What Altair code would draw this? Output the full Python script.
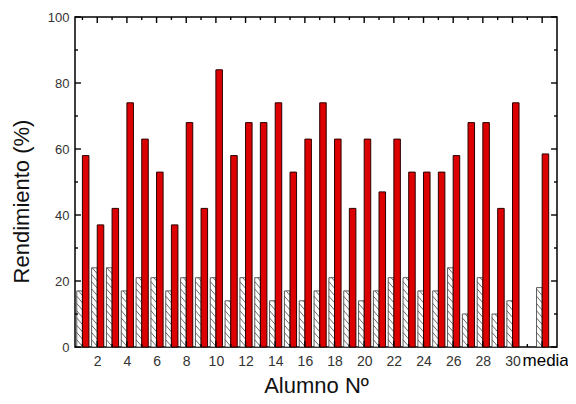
import altair as alt
import pandas as pd

# ---- data ----
alumnos = list(range(1, 31)) + [32]          # slot 32 = "media"
rend_rojo = [58, 37, 42, 74, 63, 53, 37, 68, 42, 84, 58, 68, 68, 74, 53,
             63, 74, 63, 42, 63, 47, 63, 53, 53, 53, 58, 68, 68, 42, 74, 58.5]
rend_rayado = [17, 24, 24, 17, 21, 21, 17, 21, 21, 21, 14, 21, 21, 14, 17,
               14, 17, 21, 17, 14, 17, 21, 21, 17, 17, 24, 10, 21, 10, 14, 18]
x_label_values = list(range(2, 31, 2)) + [32]
y_label_values = [0, 20, 40, 60, 80, 100]
x_tick_values = list(range(1, 33))
y_tick_values = list(range(0, 101, 10))

X_DOM = [0.5, 33]
Y_DOM = [0, 100]
W_H = 0.38   # hatched bar width (slot units)
W_R = 0.44   # red bar width

bars = pd.DataFrame({"alumno": alumnos, "rojo": rend_rojo, "rayado": rend_rayado})
bars["x_h0"] = bars["alumno"] - W_H
bars["x_h1"] = bars["alumno"]
bars["x_r0"] = bars["alumno"]
bars["x_r1"] = bars["alumno"] + W_R
bars["zero"] = 0.0

# hatch lines ("\" direction) clipped to each hatched bar
SP, DY = 2.2, 2.0
rows = []
for a, v in zip(alumnos, rend_rayado):
    xl, xr = a - W_H, a
    w = xr - xl
    k = 1
    while k * SP < v + DY:
        c = k * SP
        if c <= v:
            x0, y0 = xl, c
        else:
            t0 = (c - v) / DY
            x0, y0 = xl + t0 * w, v
        if c - DY >= 0:
            x1, y1 = xr, c - DY
        else:
            t1 = c / DY
            x1, y1 = xl + t1 * w, 0.0
        rows.append({"x0": x0, "y0": y0, "x1": x1, "y1": y1})
        k += 1
hatch = pd.DataFrame(rows)

xs = alt.Scale(domain=X_DOM, nice=False, zero=False)
ys = alt.Scale(domain=Y_DOM, nice=False)

FONT = "Liberation Sans"

x_axis = alt.Axis(
    values=x_label_values,
    labelExpr="datum.value == 32 ? 'media' : datum.value",
    ticks=False, domain=False, grid=False,
    labelFont=FONT,
    labelFontSize={"condition": {"test": "datum.value == 32", "value": 17}, "value": 14},
    labelColor={"condition": {"test": "datum.value == 32", "value": "#000"}, "value": "#333"},
    labelOffset={"condition": {"test": "datum.value == 32", "value": 3}, "value": 0},
    labelBaseline="alphabetic",
    labelPadding=18, labelFlush=False, labelOverlap=False, labelBound=False,
    title="Alumno Nº", titleFont=FONT, titleFontSize=22, titleFontWeight="normal",
    titleColor="#111", titleY=28, titleBaseline="top",
)
y_axis = alt.Axis(
    values=y_label_values, ticks=False, domain=False, grid=False,
    labelFont=FONT, labelFontSize=13, labelColor="#333", labelPadding=6,
    labelOverlap=False,
    title="Rendimiento (%)", titleFont=FONT, titleFontSize=22,
    titleFontWeight="normal", titleColor="#111", titlePadding=14, titleY=184,
)

def X(f):
    return alt.X(f, scale=xs, axis=x_axis)

def Y(f):
    return alt.Y(f, scale=ys, axis=y_axis)

base_h = alt.Chart(bars).mark_rect(fill="white", stroke="#333", strokeWidth=0.8).encode(
    x=X("x_h0:Q"), x2="x_h1:Q", y=Y("rayado:Q"), y2="zero:Q",
)
lines_h = alt.Chart(hatch).mark_rule(color="#444", strokeWidth=0.8).encode(
    x=X("x0:Q"), x2="x1:Q", y=Y("y0:Q"), y2="y1:Q",
)
red = alt.Chart(bars).mark_rect(fill="#dd0000", stroke="#2a0000", strokeWidth=1).encode(
    x=X("x_r0:Q"), x2="x_r1:Q", y=Y("rojo:Q"), y2="zero:Q",
)

# inward ticks on all four sides
xt = pd.DataFrame({"v": x_tick_values})
xt["len"] = xt["v"].apply(lambda v: 1.8 if v % 2 == 0 else 0.9)
xt["b0"] = 0.0
xt["b1"] = xt["len"]
xt["t0"] = 100.0
xt["t1"] = 100.0 - xt["len"]
yt = pd.DataFrame({"v": y_tick_values})
yt["len"] = yt["v"].apply(lambda v: 0.4 if v % 20 == 0 else 0.2)
yt["l0"] = X_DOM[0]
yt["l1"] = X_DOM[0] + yt["len"]
yt["r0"] = X_DOM[1]
yt["r1"] = X_DOM[1] - yt["len"]

tick_style = dict(color="black", strokeWidth=1.4)
ticks_bottom = alt.Chart(xt).mark_rule(**tick_style).encode(
    x=X("v:Q"), y=Y("b0:Q"), y2="b1:Q")
ticks_top = alt.Chart(xt).mark_rule(**tick_style).encode(
    x=X("v:Q"), y=Y("t0:Q"), y2="t1:Q")
ticks_left = alt.Chart(yt).mark_rule(**tick_style).encode(
    y=Y("v:Q"), x=X("l0:Q"), x2="l1:Q")
ticks_right = alt.Chart(yt).mark_rule(**tick_style).encode(
    y=Y("v:Q"), x=X("r0:Q"), x2="r1:Q")

chart = alt.layer(
    base_h, lines_h, red, ticks_bottom, ticks_top, ticks_left, ticks_right
).properties(
    width=482, height=330,
    autosize=alt.AutoSizeParams(type="none"),
    padding={"left": 67, "top": 9, "right": 11, "bottom": 49},
    background="white",
).configure_view(stroke="black", strokeWidth=1.5)

chart.save("out.html", embed_options={"renderer": "svg", "actions": False})
